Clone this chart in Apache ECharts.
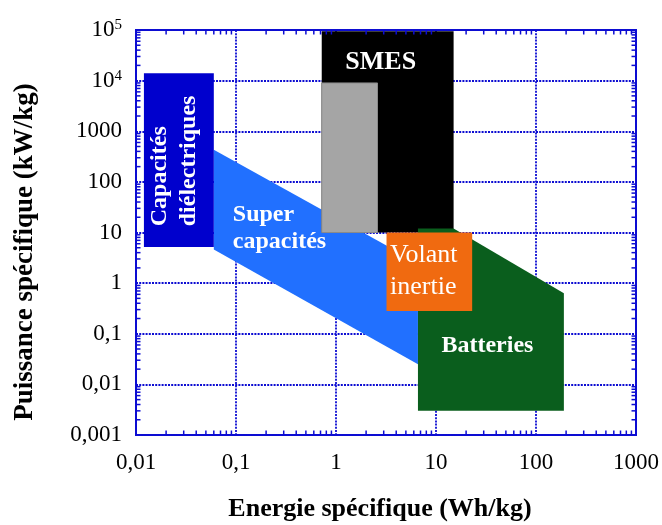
<!DOCTYPE html>
<html>
<head>
<meta charset="utf-8">
<script src="https://cdn.jsdelivr.net/npm/echarts@6/dist/echarts.min.js"></script>
<style>
  html, body { margin: 0; padding: 0; background: #ffffff; }
  #chart { width: 662px; height: 525px; }
</style>
</head>
<body>
<div id="chart"></div>
<script>
// Ragone diagram: specific power against specific energy of storage technologies

// axis ticks and their printed labels
const xTickValues = [0.01, 0.1, 1, 10, 100, 1000];
const xTickLabels = ['0,01', '0,1', '1', '10', '100', '1000'];
const yTickValues = [0.001, 0.01, 0.1, 1, 10, 100, 1000, 1e4, 1e5];
const yTickLabels = ['0,001', '0,01', '0,1', '1', '10', '100', '1000', '10^4', '10^5'];
const minorSteps = [2, 3, 4, 5, 6, 7, 8, 9];

// technology regions, vertices as [energy Wh/kg, power kW/kg]
const superCapacites = [[0.06, 430], [6.6, 2.5], [6.6, 0.025], [0.06, 4.6]];
const capacitesDielectriques = [[0.012, 14000], [0.06, 14000], [0.06, 5.2], [0.012, 5.2]];
const smes = [[0.72, 95000], [15, 95000], [15, 10], [0.72, 10]];
const smesGris = [[0.72, 9000], [2.6, 9000], [2.6, 10], [0.72, 10]];
const batteries = [[6.6, 12], [15, 12], [190, 0.63], [190, 0.003], [6.6, 0.003]];
const volantInertie = [[3.2, 10], [23, 10], [23, 0.28], [3.2, 0.28]];

const SERIF = '"Liberation Serif", "Times New Roman", serif';
const BLUE = '#0d0dd2';

function labelOf(values, labels, v) {
  let best = 0, bestD = Infinity;
  values.forEach((t, i) => {
    const d = Math.abs(Math.log10(t) - Math.log10(v));
    if (d < bestD) { bestD = d; best = i; }
  });
  return labels[best];
}

// one filled region, with an optional white caption placed from its bounding box
function regionSeries(name, pts, fill, caption, stroke) {
  return {
    type: 'custom',
    name: name,
    coordinateSystem: 'cartesian2d',
    silent: true,
    data: [pts[0]],
    renderItem: function (params, api) {
      const px = pts.map(p => api.coord(p));
      const left = Math.min.apply(null, px.map(p => p[0]));
      const top = Math.min.apply(null, px.map(p => p[1]));
      const children = [{
        type: 'polygon',
        shape: { points: px },
        style: { fill: fill, stroke: stroke || null, lineWidth: stroke ? 1 : 0 }
      }];
      if (caption) {
        children.push({
          type: 'text',
          x: left + caption.dx,
          y: top + caption.dy,
          rotation: caption.rotation || 0,
          style: {
            text: caption.text,
            font: caption.font,
            fill: '#ffffff',
            align: caption.align, textAlign: caption.align,
            verticalAlign: 'middle', textVerticalAlign: 'middle',
            lineHeight: caption.lineHeight
          }
        });
      }
      return { type: 'group', children: children };
    }
  };
}

// short inward ticks at 2..9 of every decade, on all four sides of the frame
const minorTickSeries = {
  type: 'custom',
  coordinateSystem: 'cartesian2d',
  silent: true,
  z: 5,
  data: [[1, 1]],
  renderItem: function (params, api) {
    const children = [];
    const xMin = xTickValues[0], xMax = xTickValues[xTickValues.length - 1];
    const yMin = yTickValues[0], yMax = yTickValues[yTickValues.length - 1];
    const st = { stroke: BLUE, lineWidth: 1.5 };
    const L = 4.5;
    xTickValues.slice(0, -1).forEach(d => {
      minorSteps.forEach(m => {
        const b = api.coord([d * m, yMin]);
        const t = api.coord([d * m, yMax]);
        children.push({ type: 'line', shape: { x1: b[0], y1: b[1], x2: b[0], y2: b[1] - L }, style: st });
        children.push({ type: 'line', shape: { x1: t[0], y1: t[1], x2: t[0], y2: t[1] + L }, style: st });
      });
    });
    yTickValues.slice(0, -1).forEach(d => {
      minorSteps.forEach(m => {
        const l = api.coord([xMin, d * m]);
        const r = api.coord([xMax, d * m]);
        children.push({ type: 'line', shape: { x1: l[0], y1: l[1], x2: l[0] + L, y2: l[1] }, style: st });
        children.push({ type: 'line', shape: { x1: r[0], y1: r[1], x2: r[0] - L, y2: r[1] }, style: st });
      });
    });
    return { type: 'group', children: children };
  }
};

const gridLine = { show: true, lineStyle: { color: BLUE, width: 1.8, type: [2, 1.2] } };

const option = {
  backgroundColor: '#ffffff',
  animation: false,
  grid: {
    left: 136, top: 30, width: 500, height: 405,
    show: true, borderColor: BLUE, borderWidth: 2, backgroundColor: 'transparent'
  },
  xAxis: {
    type: 'log', logBase: 10, min: 0.01, max: 1000, splitNumber: 5,
    axisLine: { show: false }, axisTick: { show: false },
    splitLine: gridLine,
    axisLabel: {
      margin: 16, color: '#000', fontFamily: SERIF, fontSize: 23,
      formatter: v => labelOf(xTickValues, xTickLabels, v)
    }
  },
  yAxis: {
    type: 'log', logBase: 10, min: 0.001, max: 1e5, splitNumber: 8,
    axisLine: { show: false }, axisTick: { show: false },
    splitLine: gridLine,
    axisLabel: {
      margin: 14, color: '#000', fontFamily: SERIF, fontSize: 23,
      formatter: function (v) {
        const s = labelOf(yTickValues, yTickLabels, v);
        if (s.indexOf('^') >= 0) {
          const parts = s.split('^');
          return '{b|' + parts[0] + '}{s|' + parts[1] + '}';
        }
        return s;
      },
      rich: {
        b: { fontFamily: SERIF, fontSize: 23, color: '#000', lineHeight: 24 },
        s: { fontFamily: SERIF, fontSize: 15, color: '#000', lineHeight: 4, verticalAlign: 'top' }
      }
    }
  },
  graphic: [
    {
      type: 'text', x: 380, y: 509,
      style: {
        text: 'Energie spécifique (Wh/kg)', font: 'bold 26px ' + SERIF, fill: '#000',
        align: 'center', textAlign: 'center', verticalAlign: 'middle', textVerticalAlign: 'middle'
      }
    },
    {
      type: 'text', x: 25, y: 252, rotation: Math.PI / 2,
      style: {
        text: 'Puissance spécifique (kW/kg)', font: 'bold 27px ' + SERIF, fill: '#000',
        align: 'center', textAlign: 'center', verticalAlign: 'middle', textVerticalAlign: 'middle'
      }
    }
  ],
  series: [
    regionSeries('Super capacités', superCapacites, '#2170ff',
      { text: 'Super\ncapacités', dx: 19, dy: 78, align: 'left', lineHeight: 27, font: 'bold 24px ' + SERIF }),
    regionSeries('Capacités diélectriques', capacitesDielectriques, '#0000cd',
      { text: 'Capacités\ndiélectriques', dx: 30, dy: 153, align: 'left', lineHeight: 29, rotation: Math.PI / 2, font: 'bold 24px ' + SERIF }),
    regionSeries('SMES', smes, '#000000',
      { text: 'SMES', dx: 59, dy: 31, align: 'center', font: 'bold 26px ' + SERIF }),
    regionSeries('SMES gris', smesGris, '#a5a5a5', null, '#8a8a8a'),
    regionSeries('Batteries', batteries, '#0a5e1d',
      { text: 'Batteries', dx: 69.5, dy: 117, align: 'center', font: 'bold 24px ' + SERIF }),
    regionSeries('Volant inertie', volantInertie, '#f06a10',
      { text: 'Volant\ninertie', dx: 3.5, dy: 38.5, align: 'left', lineHeight: 32, font: '26px ' + SERIF }),
    minorTickSeries
  ]
};

const chart = echarts.init(document.getElementById('chart'), null, { renderer: 'canvas' });
chart.setOption(option);
</script>
</body>
</html>
